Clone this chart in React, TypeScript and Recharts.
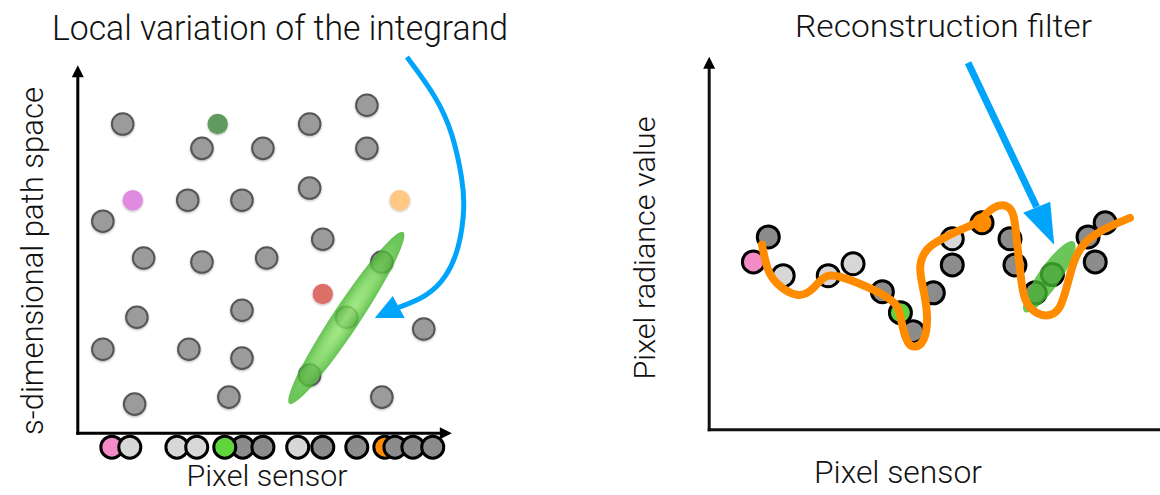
import React from 'react'
import { ScatterChart, Scatter, XAxis, YAxis, ReferenceLine } from 'recharts'

// left panel: samples in s-dimensional path space (units: 0..100 along each axis)
const pathSamples = [
  { x: 12.0, y: 84.0 }, { x: 62.0, y: 84.0 }, { x: 77.3, y: 89.1 },
  { x: 33.2, y: 77.4 }, { x: 49.5, y: 77.4 }, { x: 77.3, y: 77.4 },
  { x: 62.0, y: 66.6 }, { x: 29.4, y: 63.3 }, { x: 43.9, y: 63.3 },
  { x: 6.7, y: 57.6 }, { x: 65.5, y: 52.7 }, { x: 17.6, y: 47.6 },
  { x: 33.2, y: 46.5 }, { x: 50.5, y: 47.6 }, { x: 81.3, y: 46.5 },
  { x: 43.9, y: 33.4 }, { x: 15.8, y: 31.5 }, { x: 71.9, y: 31.5 },
  { x: 92.5, y: 28.3 }, { x: 6.7, y: 22.8 }, { x: 29.7, y: 22.8 },
  { x: 43.9, y: 20.4 }, { x: 62.0, y: 15.8 }, { x: 15.2, y: 7.9 },
  { x: 40.4, y: 9.8 }, { x: 81.3, y: 9.8 },
]
const tintedSamples = [
  { x: 37.4, y: 84.0, tone: 'moss' },
  { x: 14.7, y: 63.3, tone: 'violet' },
  { x: 86.1, y: 63.3, tone: 'peach' },
  { x: 65.5, y: 37.8, tone: 'red' },
]
// samples projected onto the pixel sensor (drawn in this order)
const projectedSamples = [
  { x: 9.1, y: -3.8, tone: 'pink' }, { x: 13.9, y: -3.8, tone: 'light' },
  { x: 26.5, y: -3.8, tone: 'light' }, { x: 31.8, y: -3.8, tone: 'light' },
  { x: 44.1, y: -3.8, tone: 'dark' }, { x: 39.3, y: -3.8, tone: 'green' },
  { x: 49.5, y: -3.8, tone: 'dark' }, { x: 58.8, y: -3.8, tone: 'light' },
  { x: 65.5, y: -3.8, tone: 'dark' }, { x: 74.6, y: -3.8, tone: 'dark' },
  { x: 82.1, y: -3.8, tone: 'orange' }, { x: 84.8, y: -3.8, tone: 'dark' },
  { x: 89.6, y: -3.8, tone: 'dark' }, { x: 94.9, y: -3.8, tone: 'dark' },
]
const leftLeaf = [{ x: 71.8, y: 31.3 }]
const leftArrowPath = [
  { x: 88.0, y: 102.2 }, { x: 96.0, y: 91.3 }, { x: 100.3, y: 81.5 },
  { x: 102.9, y: 68.8 }, { x: 103.5, y: 61.4 }, { x: 102.1, y: 50.5 },
  { x: 98.7, y: 42.4 }, { x: 93.3, y: 37.0 }, { x: 85.8, y: 34.2 },
]
const leftArrowTip = [{ x: 79.4, y: 31.3 }]

// right panel: pixel radiance values
const radianceSamples = [
  { x: 9.8, y: 45.0, tone: 'pink' }, { x: 13.1, y: 51.7, tone: 'dark' },
  { x: 16.4, y: 41.3, tone: 'light' }, { x: 26.4, y: 41.3, tone: 'light' },
  { x: 31.9, y: 44.5, tone: 'light' }, { x: 38.4, y: 37.0, tone: 'dark' },
  { x: 42.4, y: 31.4, tone: 'green' }, { x: 45.2, y: 26.3, tone: 'dark' },
  { x: 49.7, y: 36.7, tone: 'dark' }, { x: 53.9, y: 51.2, tone: 'light' },
  { x: 53.9, y: 44.2, tone: 'dark' }, { x: 60.5, y: 55.5, tone: 'orange' },
  { x: 66.7, y: 51.2, tone: 'dark' }, { x: 67.8, y: 44.2, tone: 'dark' },
  { x: 72.3, y: 36.7, tone: 'dark' }, { x: 76.1, y: 41.6, tone: 'dark' },
  { x: 84.0, y: 51.7, tone: 'dark' }, { x: 87.8, y: 55.5, tone: 'dark' },
  { x: 85.6, y: 45.0, tone: 'dark' },
]
const reconstruction = [
  { x: 11.7, y: 49.6 }, { x: 12.8, y: 43.8 }, { x: 15.0, y: 39.3 }, { x: 19.4, y: 36.2 },
  { x: 23.1, y: 38.0 }, { x: 26.5, y: 41.3 }, { x: 32.0, y: 39.8 }, { x: 37.9, y: 36.6 },
  { x: 41.6, y: 33.1 }, { x: 42.7, y: 28.6 }, { x: 43.8, y: 24.1 }, { x: 45.3, y: 22.3 },
  { x: 47.5, y: 24.1 }, { x: 48.3, y: 30.4 }, { x: 47.5, y: 37.5 }, { x: 46.8, y: 43.8 },
  { x: 48.3, y: 48.3 }, { x: 51.2, y: 50.9 }, { x: 55.7, y: 53.6 }, { x: 59.4, y: 55.8 },
  { x: 63.0, y: 59.4 }, { x: 66.0, y: 59.9 }, { x: 67.5, y: 57.2 }, { x: 68.2, y: 50.9 },
  { x: 69.0, y: 42.0 }, { x: 70.1, y: 34.9 }, { x: 72.7, y: 31.3 }, { x: 75.6, y: 30.8 },
  { x: 77.8, y: 33.1 }, { x: 79.3, y: 38.4 }, { x: 80.8, y: 44.7 }, { x: 83.0, y: 49.6 },
  { x: 87.4, y: 53.6 }, { x: 93.3, y: 56.8 },
]
const rightLeaf = [{ x: 75.4, y: 41.0 }]
const rightArrowPath = [{ x: 57.4, y: 98.4 }, { x: 72.6, y: 59.7 }]
const rightArrowTip = [{ x: 76.5, y: 49.6 }]

const axisTopTip = [{ x: 0, y: 100 }]
const axisRightTip = [{ x: 100, y: 0 }]

const TONES: Record<string, string> = {
  light: '#d7d7d7',
  dark: '#8c8c8c',
  pink: '#f38bc6',
  green: '#5fd43c',
  orange: '#ff8c00',
  moss: '#5f9b5f',
  violet: '#e08ae2',
  peach: '#ffc985',
  red: '#dc7068',
}
const BLUE = '#00a5fb'
const FONT = 'Roboto, "Liberation Sans", Arial, sans-serif'

const nothing = () => <g />

const grayDot = (p: any) => (
  <circle cx={p.cx} cy={p.cy} r={10.8} fill="#9b9b9b" stroke="#565656" strokeWidth={2} filter="url(#dotShadow)" />
)
const tintDot = (p: any) => (
  <circle cx={p.cx} cy={p.cy} r={10.2} fill={TONES[p.payload.tone]} filter="url(#dotShadow)" />
)
const sensorDot = (p: any) => (
  <circle cx={p.cx} cy={p.cy} r={11} fill={TONES[p.payload.tone]} stroke="#000" strokeWidth={3} />
)
const triangle = (pts: number[][], fill: string) => (p: any) => (
  <polygon points={pts.map(([dx, dy]) => `${p.cx + dx},${p.cy + dy}`).join(' ')} fill={fill} />
)
const leafShape = (rx: number, ry: number, angle: number, fill: string, opacity: number) => (p: any) => (
  <ellipse
    cx={p.cx}
    cy={p.cy}
    rx={rx}
    ry={ry}
    fill={fill}
    opacity={opacity}
    transform={`rotate(${angle} ${p.cx} ${p.cy})`}
  />
)

const box = (left: number, top: number): React.CSSProperties => ({ position: 'absolute', left, top })

export default function App() {
  return (
    <div style={{ position: 'absolute', left: 0, top: 0, width: 1160, height: 495, background: '#fff', overflow: 'hidden' }}>
      <svg width={0} height={0} style={{ position: 'absolute' }}>
        <defs>
          <radialGradient id="leafGrad" cx="50%" cy="50%" r="50%">
            <stop offset="0%" stopColor="#95ea70" />
            <stop offset="50%" stopColor="#6fd24e" />
            <stop offset="100%" stopColor="#40b22a" />
          </radialGradient>
          <filter id="dotShadow" x="-50%" y="-50%" width="200%" height="200%">
            <feDropShadow dx="0" dy="1" stdDeviation="1.3" floodColor="#000" floodOpacity="0.3" />
          </filter>
        </defs>
      </svg>

      {/* left: local variation of the integrand */}
      <div style={box(3.2, 20.84)}>
        <ScatterChart width={561} height={471.04} margin={{ top: 0, right: 0, bottom: 0, left: 0 }}>
          <XAxis type="number" dataKey="x" domain={[-20, 130]} hide />
          <YAxis type="number" dataKey="y" domain={[-16, 112]} hide />
          <ReferenceLine segment={[{ x: 0, y: 0 }, { x: 0, y: 97 }]} stroke="#000" strokeWidth={3} strokeLinecap="square" />
          <ReferenceLine segment={[{ x: 0, y: 0 }, { x: 97.1, y: 0 }]} stroke="#000" strokeWidth={3} strokeLinecap="square" />
          <Scatter data={axisTopTip} shape={triangle([[0, 0], [-6, 12], [6, 12]], '#000')} isAnimationActive={false} />
          <Scatter data={axisRightTip} shape={triangle([[0, 0], [-12, -6], [-12, 6]], '#000')} isAnimationActive={false} />
          <Scatter data={pathSamples} shape={grayDot} isAnimationActive={false} />
          <Scatter data={tintedSamples} shape={tintDot} isAnimationActive={false} />
          <Scatter data={leftLeaf} shape={leafShape(103, 13.5, -56.4, 'url(#leafGrad)', 0.8)} isAnimationActive={false} />
          <Scatter data={projectedSamples} shape={sensorDot} isAnimationActive={false} />
          <Scatter
            data={leftArrowPath}
            shape={nothing}
            line={{ stroke: BLUE, strokeWidth: 5 }}
            lineJointType="basis"
            isAnimationActive={false}
          />
          <Scatter data={leftArrowTip} shape={triangle([[0, 0], [18, -22], [30, 0]], BLUE)} isAnimationActive={false} />
        </ScatterChart>
      </div>

      {/* right: reconstruction filter */}
      <div style={box(618.8, 12.24)}>
        <ScatterChart width={541.2} height={462.52} margin={{ top: 0, right: 0, bottom: 0, left: 0 }}>
          <XAxis type="number" dataKey="x" domain={[-20, 100]} hide />
          <YAxis type="number" dataKey="y" domain={[-12, 112]} hide />
          <ReferenceLine segment={[{ x: 0, y: 0 }, { x: 0, y: 97.1 }]} stroke="#111" strokeWidth={3} strokeLinecap="square" />
          <ReferenceLine segment={[{ x: 0, y: 0 }, { x: 100, y: 0 }]} stroke="#111" strokeWidth={3} strokeLinecap="square" />
          <Scatter data={axisTopTip} shape={triangle([[0, 0], [-6, 12], [6, 12]], '#000')} isAnimationActive={false} />
          <Scatter data={radianceSamples} shape={sensorDot} isAnimationActive={false} />
          <Scatter data={rightLeaf} shape={leafShape(43, 11, -55, '#45b830', 0.8)} isAnimationActive={false} />
          <Scatter
            data={reconstruction}
            shape={nothing}
            line={{ stroke: '#ff8c00', strokeWidth: 8, strokeLinecap: 'round', strokeLinejoin: 'round' }}
            lineJointType="natural"
            isAnimationActive={false}
          />
          <Scatter data={rightArrowPath} shape={nothing} line={{ stroke: BLUE, strokeWidth: 7 }} isAnimationActive={false} />
          <Scatter data={rightArrowTip} shape={triangle([[0, 0], [-31, -32], [-4, -43]], BLUE)} isAnimationActive={false} />
        </ScatterChart>
      </div>

      {/* titles and axis labels */}
      <svg width={1160} height={495} style={{ position: 'absolute', left: 0, top: 0, pointerEvents: 'none' }}>
        <g fontFamily={FONT} fontWeight={300} fill="#111">
          <text x={280} y={40} fontSize={35} textAnchor="middle" textLength={456} lengthAdjust="spacingAndGlyphs">
            Local variation of the integrand
          </text>
          <text x={943.5} y={37} fontSize={31} textAnchor="middle" textLength={297} lengthAdjust="spacingAndGlyphs">
            Reconstruction filter
          </text>
          <text x={43} y={261} fontSize={30.5} textAnchor="middle" textLength={348} lengthAdjust="spacingAndGlyphs" transform="rotate(-90 43 261)">
            s-dimensional path space
          </text>
          <text x={267} y={486} fontSize={30} textAnchor="middle" textLength={161} lengthAdjust="spacingAndGlyphs">
            Pixel sensor
          </text>
          <text x={655} y={248} fontSize={29.5} textAnchor="middle" textLength={263} lengthAdjust="spacingAndGlyphs" transform="rotate(-90 655 248)">
            Pixel radiance value
          </text>
          <text x={898} y={483} fontSize={30.5} textAnchor="middle" textLength={168} lengthAdjust="spacingAndGlyphs">
            Pixel sensor
          </text>
        </g>
      </svg>
    </div>
  )
}
